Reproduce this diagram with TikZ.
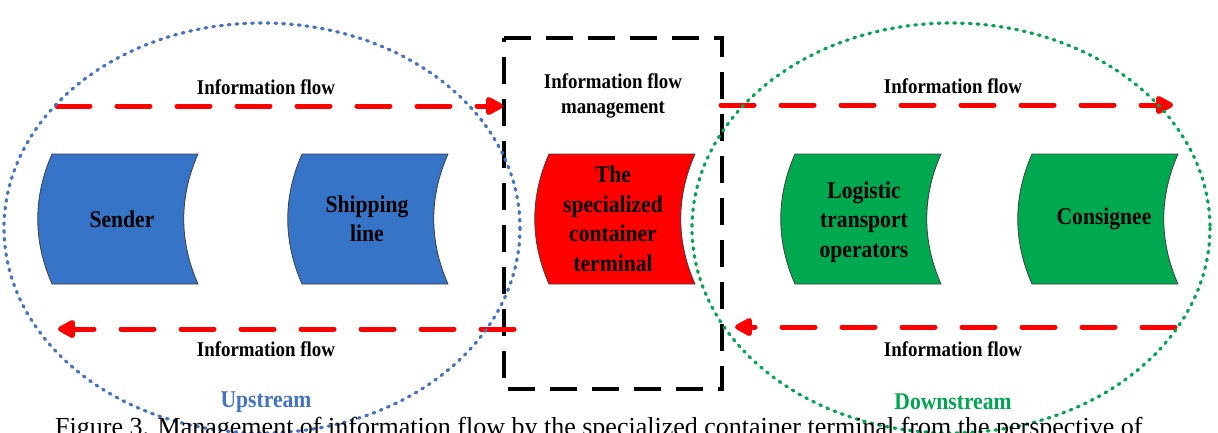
\documentclass[tikz,border=0pt]{standalone}
\usepackage{fontspec}
\setmainfont{Liberation Serif}[FakeStretch=0.9]
\newfontfamily\capfont{Liberation Serif}
\usetikzlibrary{arrows.meta}
\definecolor{upblue}{RGB}{68,114,196}
\definecolor{downgreen}{RGB}{0,166,80}
\definecolor{fillblue}{RGB}{54,116,200}
\definecolor{fillgreen}{RGB}{0,168,80}
\definecolor{flowred}{RGB}{255,0,0}
\newcommand\drawstore[2]{%
  \begin{scope}[xshift=#1]
    \path[shapebox,fill=#2] (0,154) -- (146,154)
      .. controls (127,197) and (127,241) .. (146,284) -- (0,284)
      .. controls (-19,241) and (-19,197) .. (0,154) -- cycle;
  \end{scope}}
\begin{document}
\begin{tikzpicture}[x=1pt,y=-1pt,
  shapebox/.style={draw=black!75,line width=0.8pt},
  stxt/.style={font=\fontsize{24}{29.5}\selectfont\bfseries,align=center,inner sep=0pt,text=black},
  lbl/.style={font=\fontsize{21}{25}\selectfont\bfseries,align=center,inner sep=0pt},
  region/.style={font=\fontsize{24}{28}\selectfont\bfseries,inner sep=0pt},
  flow/.style={draw=flowred,line width=5pt,line cap=round,dash pattern=on 33pt off 27pt,
    -{Triangle[length=20pt,width=20pt,round=false]}},
  dotted ellipse/.style={line width=3.2pt,line cap=round,dash pattern=on 1.8pt off 6pt},
  mgmtbox/.style={draw=black,line width=3.3pt,dash pattern=on 27pt off 15pt}]
\useasboundingbox (0,0) rectangle (1218,432);
\fill[white] (0,0) rectangle (1218,432);

% management box
\draw[mgmtbox] (504,38) -- (722,38) -- (722,389) -- (504,389) -- cycle;

% shapes
\drawstore{52}{fillblue}
\drawstore{302}{fillblue}
\drawstore{549}{flowred}
\drawstore{795}{fillgreen}
\drawstore{1032}{fillgreen}

\node[stxt] (sender) at (122,219) {Sender};
\node[stxt] (shipping) at (367,219) {Shipping\\line};
\node[stxt] (terminal) at (613,219) {The\\specialized\\container\\terminal};
\node[stxt] (logistic) at (864,222) {Logistic\\transport\\operators};
\node[stxt] (consignee) at (1104,219) {Consignee};

% flows
\coordinate (tl1) at (57,106);
\coordinate (tl2) at (503,106);
\coordinate (tr1) at (721,105);
\coordinate (tr2) at (1173,105);
\coordinate (bl1) at (514,329);
\coordinate (bl2) at (58,329);
\coordinate (br1) at (1175,327);
\coordinate (br2) at (735,327);
\draw[flow] (tl1) -- (tl2);
\draw[flow] (tr1) -- (tr2);
\draw[flow] (bl1) -- (bl2);
\draw[flow] (br1) -- (br2);

% labels
\node[lbl] (ifl1) at (266,87) {Information flow};
\node[lbl] (ifr1) at (953,86) {Information flow};
\node[lbl] (ifl2) at (266,349) {Information flow};
\node[lbl] (ifr2) at (953,349) {Information flow};
\node[lbl] (ifm) at (613,96) {Information flow\\management};
\node[region,text=upblue] (up) at (266,402) {Upstream};
\node[region,text=downgreen] (down) at (953,402) {Downstream};

% ellipses
\draw[dotted ellipse,draw=upblue] (262,228) ellipse [x radius=258,y radius=205];
\draw[dotted ellipse,draw=downgreen] (951,228) ellipse [x radius=259,y radius=205];

% caption (cut by the frame, as in the reference)
\begin{scope}
\clip (0,0) rectangle (1218,432);
\node[anchor=base west,inner sep=0pt,font=\capfont\fontsize{26}{30}\selectfont] (cap) at (55,435)
  {Figure 3. Management of information flow by the specialized container terminal from the perspective of};
\end{scope}
\end{tikzpicture}
\end{document}
